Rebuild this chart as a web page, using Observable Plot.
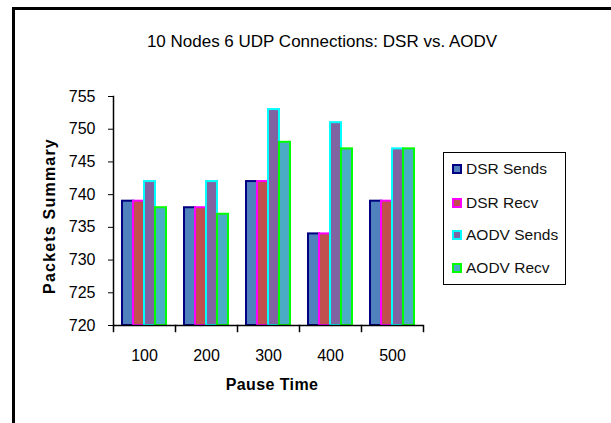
<!DOCTYPE html>
<html><head><meta charset="utf-8">
<script src="https://cdn.jsdelivr.net/npm/d3@7"></script>
<script src="https://cdn.jsdelivr.net/npm/@observablehq/plot@0.6"></script>
<style>
body{margin:0;background:#fff;font-family:"Liberation Sans",Arial,sans-serif;}
#wrap{position:relative;width:611px;height:423px;overflow:hidden;}
#border{position:absolute;left:12px;top:7px;width:620px;height:430px;border-left:3px solid #000;border-top:3px solid #000;}
#title{position:absolute;left:0;width:644px;top:42px;transform:translateY(-50%);text-align:center;font-size:17px;color:#000;white-space:nowrap;}
#ylab{position:absolute;left:50px;top:216px;transform:translate(-50%,-50%) rotate(-90deg);font-weight:bold;font-size:16px;letter-spacing:1.2px;white-space:nowrap;}
#xlab{position:absolute;left:272px;top:385px;transform:translate(-50%,-50%);font-weight:bold;font-size:16px;letter-spacing:0.4px;white-space:nowrap;}
#legend{position:absolute;left:443px;top:152px;width:121px;height:131px;border:1px solid #000;background:#fff;}
.item{position:absolute;left:8px;font-size:15.5px;display:flex;align-items:center;white-space:nowrap;transform:translateY(-50%);color:#111;}
.sw{width:6px;height:6px;border:2px solid;margin-right:4px;}
#chart{position:absolute;left:0;top:0;}
</style></head>
<body><div id="wrap"><div id="border"></div><div id="chart"></div><div id="title"></div><div id="ylab"></div><div id="xlab"></div><div id="legend"></div></div>
<script>
const pauseTimes = ["100", "200", "300", "400", "500"];
const seriesNames = ["DSR Sends", "DSR Recv", "AODV Sends", "AODV Recv"];
const dsrSends  = [739, 738, 742, 734, 739];
const dsrRecv   = [739, 738, 742, 734, 739];
const aodvSends = [742, 742, 753, 751, 747];
const aodvRecv  = [738, 737, 748, 747, 747];
const fillColors   = ["#4F81BD", "#C0504D", "#8064A2", "#4BACC6"];
const strokeColors = ["#000080", "#FF00FF", "#00FFFF", "#00FF00"];
const yTicks = [720, 725, 730, 735, 740, 745, 750, 755];

const seriesValues = [dsrSends, dsrRecv, aodvSends, aodvRecv];
const data = [];
pauseTimes.forEach((p, i) => seriesNames.forEach((s, j) => data.push({pause: p, series: s, value: seriesValues[j][i]})));

document.getElementById("title").textContent = "10 Nodes 6 UDP Connections: DSR vs. AODV";
document.getElementById("ylab").textContent = "Packets Summary";
document.getElementById("xlab").textContent = "Pause Time";

const plot = Plot.plot({
  width: 611, height: 423,
  marginLeft: 111, marginRight: 186, marginTop: 96, marginBottom: 98,
  style: {fontFamily: "Liberation Sans, Arial, sans-serif", fontSize: "16px", color: "#000", background: "transparent"},
  fx: {domain: pauseTimes, padding: 0, label: null},
  x: {domain: seriesNames, paddingInner: 0, paddingOuter: 0.68, axis: null},
  y: {domain: [720, 755], ticks: yTicks, label: null},
  color: {domain: seriesNames, range: fillColors},
  marks: [
    Plot.barY(data, {fx: "pause", x: "series", y1: 720, y2: "value", fill: "series",
      stroke: d => strokeColors[seriesNames.indexOf(d.series)], strokeWidth: 2}),
    Plot.ruleY([720], {stroke: "#000", strokeWidth: 1.5}),
    Plot.frame({anchor: "left", insetTop: 229, insetBottom: -6, stroke: "#000", strokeWidth: 1.5}),
    Plot.frame({anchor: "right", facet: "super", insetTop: 229, insetBottom: -6, stroke: "#000", strokeWidth: 1.5}),
    Plot.frame({anchor: "left", facet: "super", stroke: "#000", strokeWidth: 1.5}),
    Plot.axisY({ticks: yTicks, tickSize: 5, tickPadding: 13, label: null, tickFormat: d => String(d)}),
    Plot.axisFx({anchor: "bottom", tickSize: 0, tickPadding: 24, label: null})
  ]
});
document.getElementById("chart").appendChild(plot);

const leg = document.getElementById("legend");
const tops = [16, 50, 82, 115];
seriesNames.forEach((s, j) => {
  const it = document.createElement("div");
  it.className = "item";
  it.style.top = tops[j] + "px";
  const sw = document.createElement("span");
  sw.className = "sw";
  sw.style.background = fillColors[j];
  sw.style.borderColor = strokeColors[j];
  it.appendChild(sw);
  it.appendChild(document.createTextNode(s));
  leg.appendChild(it);
});
</script></body></html>
